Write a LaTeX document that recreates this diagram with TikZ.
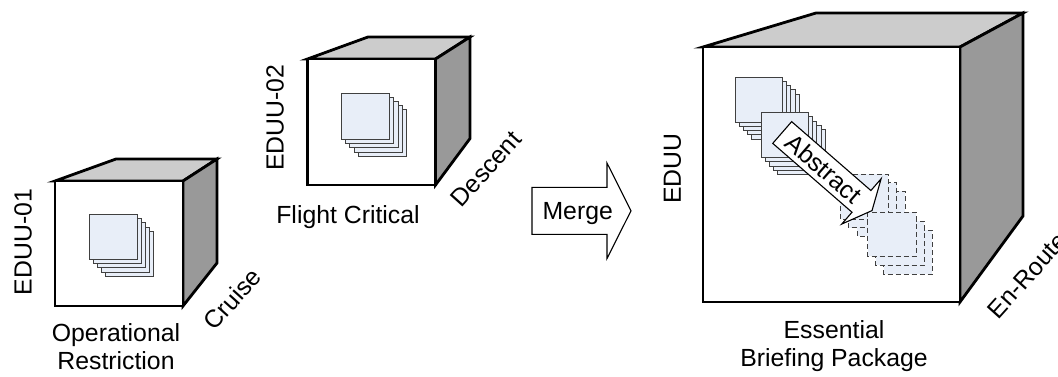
\documentclass[tikz,border=0pt]{standalone}
\usepackage{fontspec}
\setmainfont{Liberation Sans}
\definecolor{topgray}{HTML}{CCCCCC}
\definecolor{sidegray}{HTML}{999999}
\definecolor{sheetfill}{HTML}{E8EEF8}
\definecolor{sheetline}{HTML}{404040}
\begin{document}
\begin{tikzpicture}[x=1pt,y=-1pt,
  edge/.style={line width=2.8pt, line join=miter},
  frontface/.style={edge, fill=white},
  topface/.style={edge, fill=topgray},
  sideface/.style={edge, fill=sidegray},
  sheet/.style={draw=sheetline, fill=sheetfill, line width=0.9pt},
  dsheet/.style={sheet, dash pattern=on 5pt off 3pt},
  lbl/.style={font=\fontsize{24.8}{28.5}\selectfont, inner sep=0pt},
  blockarrow/.style={draw=black, fill=white, line width=1.1pt, line join=miter}]
\useasboundingbox (0,0) rectangle (1058,376);

% ---------- cube 1 ----------
\coordinate (a1) at (55,181);  \coordinate (a2) at (183,181);
\coordinate (a3) at (183,306); \coordinate (a4) at (116,159);
\coordinate (a5) at (217,159); \coordinate (a6) at (217,263);
\draw[topface] (a1) -- (a4) -- (a5) -- (a2) -- cycle;
\draw[sideface] (a2) -- (a5) -- (a6) -- (a3) -- cycle;
\draw[frontface] (a1) rectangle (a3);
\foreach \i in {4,3,2,1,0}
  \draw[sheet] ({89+\i*4.2},{214+\i*4.4}) rectangle ++(48,45);

% ---------- cube 2 ----------
\coordinate (b1) at (307.5,59);  \coordinate (b2) at (435.5,59);
\coordinate (b3) at (435.5,185); \coordinate (b4) at (368,37);
\coordinate (b5) at (470,37);    \coordinate (b6) at (470,138.5);
\draw[topface] (b1) -- (b4) -- (b5) -- (b2) -- cycle;
\draw[sideface] (b2) -- (b5) -- (b6) -- (b3) -- cycle;
\draw[frontface] (b1) rectangle (b3);
\foreach \i in {4,3,2,1,0}
  \draw[sheet] ({341+\i*4.35},{93+\i*4.2}) rectangle ++(48.5,46.5);

% ---------- cube 3 ----------
\coordinate (c1) at (703,47);  \coordinate (c2) at (960,47);
\coordinate (c3) at (960,302); \coordinate (c4) at (816,13);
\coordinate (c5) at (1023,13); \coordinate (c6) at (1023,216);
\draw[topface] (c1) -- (c4) -- (c5) -- (c2) -- cycle;
\draw[sideface] (c2) -- (c5) -- (c6) -- (c3) -- cycle;
\draw[frontface] (c1) rectangle (c3);
\foreach \i in {4,3,2,1,0}
  \draw[sheet] ({735+\i*4.2},{77+\i*4.3}) rectangle ++(47.5,45);
\foreach \i in {4,3,2,1,0}
  \draw[sheet] ({761+\i*4.2},{112.5+\i*4.3}) rectangle ++(47.5,45);
\foreach \i in {2,1,0}
  \draw[dsheet] ({840+\i*8.5},{174+\i*8.5}) rectangle ++(48,45);
\foreach \i in {2,1,0}
  \draw[dsheet] ({867.5+\i*8},{212+\i*9}) rectangle ++(48.5,44);

% ---------- Abstract arrow ----------
\begin{scope}[shift={(782.2,132.5)}, rotate=-41]
  \draw[blockarrow] (0,-14.4) -- (105,-14.4) -- (105,-30) -- (119,0)
    -- (105,30) -- (105,14.4) -- (0,14.4) -- cycle;
  \node[lbl, rotate=-41] (abstract) at (55,0) {Abstract};
\end{scope}

% ---------- Merge arrow ----------
\draw[blockarrow] (532,187.3) -- (607,187.3) -- (607,163) -- (631,210.8)
  -- (607,258.5) -- (607,234.3) -- (532,234.3) -- cycle;
\node[lbl, anchor=base] (merge) at (577.7,219.5) {Merge};

% ---------- labels ----------
\node[lbl, rotate=90] (eduu01) at (23,242) {EDUU-01};
\node[lbl, rotate=90] (eduu02) at (275,117.5) {EDUU-02};
\node[lbl, rotate=90] (eduu) at (672.5,168.5) {EDUU};
\node[lbl, rotate=48] (cruise) at (232,299) {Cruise};
\node[lbl, rotate=48] (descent) at (486,169) {Descent};
\node[lbl, rotate=48] (enroute) at (1027,275.5) {En-Route};
\node[lbl, align=center, anchor=north] (oprest) at (116,323.3) {Operational\\Restriction};
\node[lbl, align=center, anchor=north] (flight) at (348,205) {Flight Critical};
\node[lbl, align=center, anchor=north] (ebp) at (834,320) {Essential\\Briefing Package};
\end{tikzpicture}
\end{document}
